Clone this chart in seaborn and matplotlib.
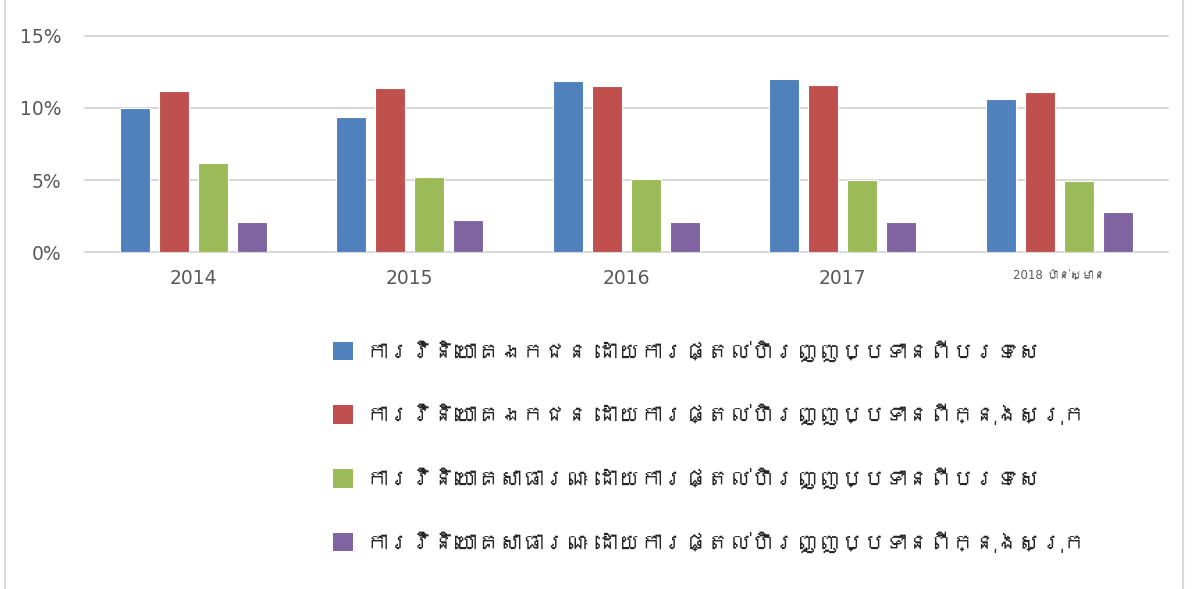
import pandas as pd
import matplotlib
matplotlib.use("Agg")
import matplotlib.pyplot as plt
import seaborn as sns
from matplotlib import font_manager
from matplotlib.ft2font import FT2Font
from matplotlib.ticker import PercentFormatter
from matplotlib.patches import Patch

# datos (en %)
anios = ['2014', '2015', '2016', '2017', '2018 ប៉ាន់ស្មាន']
series = [
    'ការវិនិយោគឯកជន ដោយការផ្តល់ហិរញ្ញប្បទានពីបរទេស',
    'ការវិនិយោគឯកជន ដោយការផ្តល់ហិរញ្ញប្បទានពីក្នុងស្រុក',
    'ការវិនិយោគសាធារណៈ ដោយការផ្តល់ហិរញ្ញប្បទានពីបរទេស',
    'ការវិនិយោគសាធារណៈ ដោយការផ្តល់ហិរញ្ញប្បទានពីក្នុងស្រុក',
]
priv_ext = [10.0, 9.4, 11.9, 12.0, 10.6]
priv_int = [11.2, 11.4, 11.5, 11.6, 11.1]
pub_ext = [6.2, 5.2, 5.1, 5.0, 4.9]
pub_int = [2.1, 2.2, 2.1, 2.1, 2.8]

colores = ['#4F81BD', '#C0504D', '#9BBB59', '#8064A2']

df = pd.DataFrame({'ANIO': anios, series[0]: priv_ext, series[1]: priv_int,
                   series[2]: pub_ext, series[3]: pub_int})
df_melt = df.melt(id_vars='ANIO', var_name='SERIE', value_name='VALOR')

# buscar una fuente instalada con glifos jemer (si hay alguna)
familias = []
for f in font_manager.fontManager.ttflist:
    try:
        if ord('ក') in FT2Font(f.fname).get_charmap() and f.name not in familias:
            familias.append(f.name)
    except Exception:
        pass

sns.set_style('white')
# DejaVu para cifras y latin, la fuente jemer solo como respaldo
plt.rcParams['font.family'] = ['DejaVu Sans'] + familias[:1]

fig = plt.figure(figsize=(11.95, 5.89), dpi=100)
ax = fig.add_axes([0.071, 0.572, 0.906, 0.367])

sns.barplot(data=df_melt, x='ANIO', y='VALOR', hue='SERIE', palette=colores,
            saturation=1, width=0.72, gap=0.23, edgecolor='white',
            linewidth=0.8, ax=ax)

ax.set_ylim(0, 15)
ax.set_yticks([0, 5, 10, 15])
ax.yaxis.set_major_formatter(PercentFormatter(decimals=0))
ax.grid(axis='y', color='#D9D9D9', linewidth=1.5)
for l in ax.get_ygridlines():
    l.set_clip_on(False)
ax.set_axisbelow(True)
for s in ax.spines.values():
    s.set_visible(False)
ax.set_xlabel('')
ax.set_ylabel('')
ax.tick_params(axis='both', length=0, colors='#595959', labelsize=13.5)
ax.tick_params(axis='y', pad=17)
ax.tick_params(axis='x', pad=12)
ax.get_xticklabels()[4].set_fontsize(8.5)
ax.get_legend().remove()

# leyenda debajo del grafico
handles = [Patch(facecolor=c, edgecolor='none') for c in colores]
fig.legend(handles, series, loc='upper left', bbox_to_anchor=(0.262, 0.455),
           frameon=False, fontsize=16, handlelength=0.9, handleheight=0.9,
           handletextpad=0.6, labelspacing=1.9)

# borde del area del grafico
fig.add_artist(plt.Line2D([0.004, 0.004], [0, 1], color='#D9D9D9', linewidth=1.5))
fig.add_artist(plt.Line2D([0.99, 0.99], [0, 1], color='#D9D9D9', linewidth=1.5))

fig.savefig('out.png', dpi=100)
